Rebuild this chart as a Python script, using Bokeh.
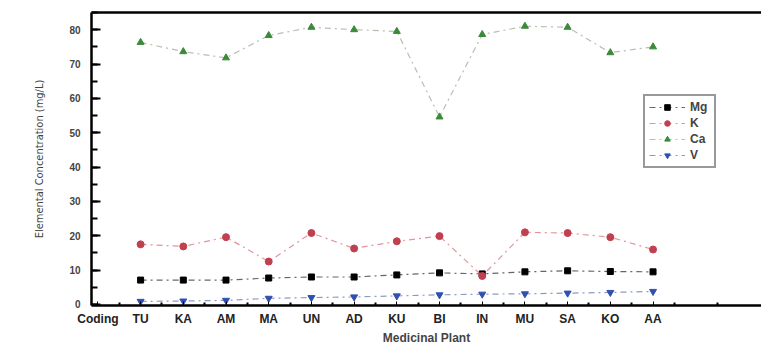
from bokeh.plotting import figure
from bokeh.models import (Range1d, FixedTicker, LinearAxis, Legend, LegendItem)
from bokeh.embed import file_html
from bokeh.resources import INLINE

categories = ["Coding", "TU", "KA", "AM", "MA", "UN", "AD", "KU", "BI", "IN", "MU", "SA", "KO", "AA"]
mg = [7.1, 7.1, 7.1, 7.7, 8.0, 8.0, 8.6, 9.2, 8.9, 9.5, 9.8, 9.6, 9.5]
k = [17.5, 16.9, 19.6, 12.5, 20.8, 16.3, 18.4, 19.9, 8.3, 21.0, 20.8, 19.6, 16.0]
ca = [76.3, 73.6, 71.8, 78.3, 80.7, 80.0, 79.5, 54.6, 78.6, 81.0, 80.7, 73.3, 75.0]
v = [0.9, 1.0, 1.2, 1.8, 2.0, 2.2, 2.5, 2.8, 3.0, 3.1, 3.3, 3.5, 3.8]
y_ticks = [0, 10, 20, 30, 40, 50, 60, 70, 80]

xs = list(range(1, len(categories)))

p = figure(width=761, height=347, output_backend="svg", toolbar_location=None,
           x_range=Range1d(-0.15, 15.54), y_range=Range1d(-0.3, 85.0),
           min_border_left=91, min_border_right=0, min_border_top=12, min_border_bottom=42,
           outline_line_color=None)
p.grid.grid_line_color = None
p.background_fill_color = "white"
p.border_fill_color = "white"

font = "Liberation Sans"

xa = p.xaxis[0]
xa.ticker = FixedTicker(ticks=list(range(len(categories))),
                        minor_ticks=[i + 0.5 for i in range(-1, 15)])
xa.major_label_overrides = {i: c for i, c in enumerate(categories)}
xa.axis_line_width = 2.5
xa.major_tick_in = 4
xa.major_tick_out = 0
xa.minor_tick_in = 3
xa.minor_tick_out = 0
xa.minor_tick_line_width = 2
xa.major_label_text_font = font
xa.major_label_text_font_style = "bold"
xa.major_label_text_font_size = "12px"
xa.major_label_text_color = "#222222"
xa.major_label_standoff = 6
xa.axis_label = "Medicinal Plant"
xa.axis_label_text_font = font
xa.axis_label_text_font_style = "bold"
xa.axis_label_text_font_size = "12px"
xa.axis_label_standoff = 2

ya = p.yaxis[0]
ya.ticker = FixedTicker(ticks=y_ticks, minor_ticks=[5 * i for i in range(18)])
ya.axis_line_width = 2.5
ya.major_tick_in = 9
ya.major_tick_out = 0
ya.minor_tick_in = 6
ya.minor_tick_out = 0
ya.major_tick_line_width = 2
ya.minor_tick_line_width = 2
ya.major_label_text_font = font
ya.major_label_text_font_style = "bold"
ya.major_label_text_font_size = "10px"
ya.major_label_standoff = 11
ya.axis_label = "Elemental Concentration (mg/L)"
ya.axis_label_text_font = "DejaVu Sans Condensed"
ya.axis_label_text_font_style = "normal"
ya.axis_label_text_font_size = "11px"
ya.axis_label_standoff = 20

top = LinearAxis(ticker=FixedTicker(ticks=[]), major_tick_line_color=None,
                 minor_tick_line_color=None, axis_line_width=2.5)
p.add_layout(top, "above")

series = [
    ("Mg", mg, "black", "#555555", "square", 6),
    ("K", k, "#c0404f", "#e08a92", "circle", 7),
    ("Ca", ca, "#3a8a3a", "#b0b8a8", "triangle", 7),
    ("V", v, "#3050b0", "#8090b8", "inverted_triangle", 7),
]
items = []
for name, ys, mc, lc, marker, size in series:
    ln = p.line(xs, ys, line_color=lc, line_width=1.2, line_dash="dashdot", line_alpha=0.9)
    sc = p.scatter(xs, ys, marker=marker, size=size, fill_color=mc, line_color=mc)
    items.append(LegendItem(label=name, renderers=[ln, sc]))

legend = Legend(items=items, location=(552, 137))
legend.border_line_color = "#333333"
legend.border_line_width = 2
legend.label_text_font = font
legend.label_text_font_style = "bold"
legend.label_text_font_size = "12px"
legend.glyph_height = 14
legend.glyph_width = 36
legend.label_height = 14
legend.spacing = 2
legend.padding = 4
legend.margin = 0
legend.background_fill_alpha = 1
p.add_layout(legend, "center")

open("out.html", "w").write(file_html(p, INLINE))
